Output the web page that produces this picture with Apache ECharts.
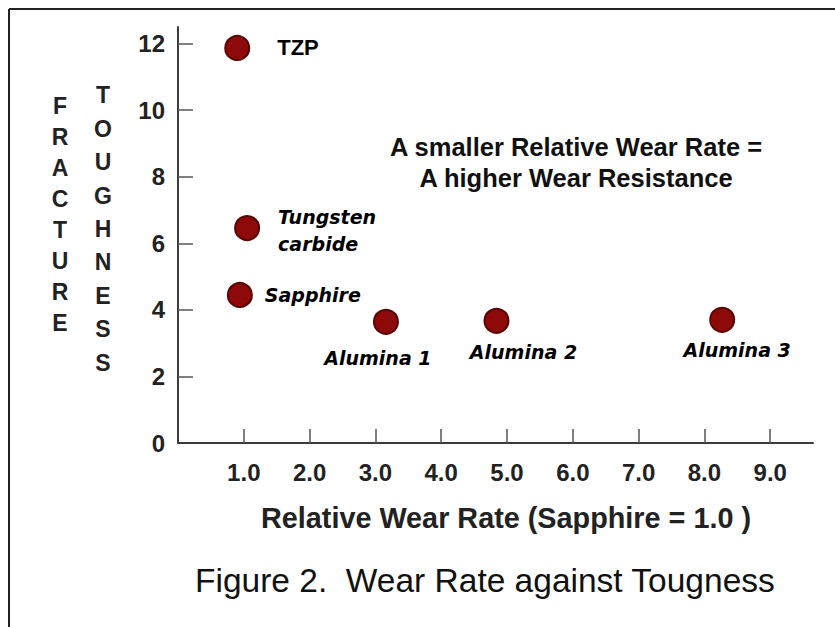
<!DOCTYPE html>
<html>
<head>
<meta charset="utf-8">
<title>Wear Rate against Tougness</title>
<script src="https://cdn.jsdelivr.net/npm/echarts@6/dist/echarts.min.js"></script>
<style>
  html, body { margin: 0; padding: 0; background: #fff; }
  #main { width: 835px; height: 627px; }
</style>
</head>
<body>
<div id="main"></div>
<script>
// values
var materials = ['TZP', 'Tungsten\ncarbide', 'Sapphire', 'Alumina 1', 'Alumina 2', 'Alumina 3'];
var wearRate = [0.9, 1.05, 0.94, 3.16, 4.84, 8.27];
var toughness = [11.87, 6.46, 4.45, 3.64, 3.67, 3.70];
var xTickValues = [1, 2, 3, 4, 5, 6, 7, 8, 9];
var yTickMarks = [2, 4, 6, 8, 10, 12];
var yTickLabels = [0, 2, 4, 6, 8, 10, 12];

// where each point label sits, relative to the point centre
var labelOffsets = [[40, 0], [31, 2], [25, 0], [-8, 36], [27, 31], [15, 30]];
var labelAligns = ['left', 'left', 'left', 'center', 'center', 'center'];

var SANS = '"Liberation Sans", Arial, sans-serif';
var axisColor = '#3c3c3c';

var points = materials.map(function (name, i) {
  var first = i === 0;
  return {
    name: name,
    value: [wearRate[i], toughness[i]],
    label: {
      show: true,
      formatter: '{b}',
      position: 'inside',
      align: labelAligns[i],
      verticalAlign: 'middle',
      offset: labelOffsets[i],
      color: '#000',
      fontFamily: first ? SANS : '"DejaVu Sans", Verdana, sans-serif',
      fontStyle: first ? 'normal' : 'italic',
      fontWeight: 'bold',
      fontSize: first ? 22 : 19,
      lineHeight: 27
    }
  };
});

var myChart = echarts.init(document.getElementById('main'), null, {renderer: 'svg'});

var option = {
  backgroundColor: '#fff',
  animation: false,
  title: {
    text: 'Figure 2.  Wear Rate against Tougness',
    left: 195,
    top: 563,
    padding: 0,
    textStyle: {
      fontFamily: SANS,
      fontSize: 33.5,
      fontWeight: 'normal',
      color: '#111'
    }
  },
  grid: {
    left: 178,
    right: 22,
    top: 27,
    bottom: 184
  },
  xAxis: {
    type: 'value',
    min: 0,
    max: 9.65,
    name: 'Relative Wear Rate (Sapphire = 1.0 )',
    nameLocation: 'middle',
    nameGap: 60,
    nameTextStyle: {
      fontFamily: SANS,
      fontSize: 28.8,
      fontWeight: 'bold',
      color: '#222',
      padding: [0, 0, 0, 21]
    },
    axisLine: {show: true, lineStyle: {color: axisColor, width: 2}},
    axisTick: {
      show: true,
      inside: true,
      length: 14,
      customValues: xTickValues,
      lineStyle: {color: '#555', width: 1.5}
    },
    axisLabel: {
      customValues: xTickValues,
      margin: 17,
      fontFamily: SANS,
      fontSize: 24,
      fontWeight: 'bold',
      color: '#222',
      formatter: function (v) { return v.toFixed(1); }
    },
    splitLine: {show: false}
  },
  yAxis: {
    type: 'value',
    min: 0,
    max: 12.5,
    axisLine: {show: true, lineStyle: {color: axisColor, width: 2}},
    axisTick: {
      show: true,
      inside: true,
      length: 15,
      customValues: yTickMarks,
      lineStyle: {color: '#555', width: 1.5}
    },
    axisLabel: {
      customValues: yTickLabels,
      margin: 13,
      fontFamily: SANS,
      fontSize: 24,
      fontWeight: 'bold',
      color: '#222'
    },
    splitLine: {show: false}
  },
  graphic: [
    // picture frame: top and left edges only
    {type: 'line', shape: {x1: 9, y1: 9, x2: 835, y2: 9}, style: {stroke: '#222', lineWidth: 2}, silent: true},
    {type: 'line', shape: {x1: 9, y1: 9, x2: 9, y2: 627}, style: {stroke: '#222', lineWidth: 2}, silent: true},
    // stacked y axis title, two columns
    {
      type: 'text', x: 60, y: 214, silent: true,
      style: {
        text: 'FRACTURE'.split('').join('\n'),
        font: 'bold 23px ' + SANS,
        lineHeight: 31,
        fill: '#222',
        align: 'center', verticalAlign: 'middle',
        textAlign: 'center', textVerticalAlign: 'middle'
      }
    },
    {
      type: 'text', x: 103, y: 229, silent: true,
      style: {
        text: 'TOUGHNESS'.split('').join('\n'),
        font: 'bold 23px ' + SANS,
        lineHeight: 33.4,
        fill: '#222',
        align: 'center', verticalAlign: 'middle',
        textAlign: 'center', textVerticalAlign: 'middle'
      }
    },
    // note in the plot area
    {
      type: 'text', x: 576, y: 162, silent: true,
      style: {
        text: 'A smaller Relative Wear Rate =\nA higher Wear Resistance',
        font: 'bold 25.5px ' + SANS,
        lineHeight: 31,
        fill: '#111',
        align: 'center', verticalAlign: 'middle',
        textAlign: 'center', textVerticalAlign: 'middle'
      }
    }
  ],
  series: [
    {
      type: 'scatter',
      symbol: 'circle',
      symbolSize: 24,
      itemStyle: {
        color: '#8e0a0a',
        borderColor: '#5a0303',
        borderWidth: 2,
        opacity: 1
      },
      emphasis: {disabled: true},
      data: points
    }
  ]
};

myChart.setOption(option);
</script>
</body>
</html>
